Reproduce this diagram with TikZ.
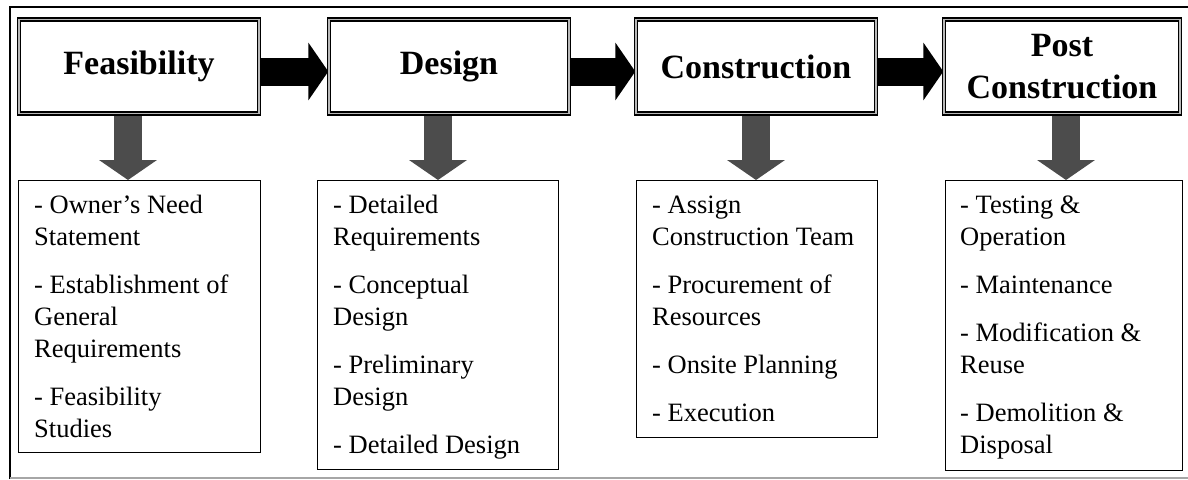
\documentclass[tikz,border=0pt]{standalone}
\usepackage{fontspec}
\setmainfont{Liberation Serif}
\usetikzlibrary{arrows.meta,backgrounds}
\begin{document}
\begin{tikzpicture}[x=1pt,y=1pt,
  stage/.style={draw=black, line width=1.4pt, double=gray!55, double distance=1.4pt,
    fill=white, minimum width=240pt, minimum height=94pt, inner sep=0pt,
    font=\fontsize{34}{42}\selectfont\bfseries, align=center},
  listbox/.style={draw=black, line width=1.3pt, fill=white, inner sep=0pt, anchor=north west},
  listtext/.style={anchor=north west, inner sep=0pt, align=left,
    font=\fontsize{26.5}{32}\selectfont},
  hflow/.style={line width=28pt, -{Triangle[length=20pt 0, width=57pt 0]}, black},
  downflow/.style={line width=28pt, -{Triangle[length=20pt 0, width=57pt 0]}, black!70},
  frameline/.style={line width=2.8pt, black}
]
\path[use as bounding box] (0,0) rectangle (1188,-479);

% outer frame
\draw[frameline] (10,-479) -- (10,-7) -- (1188,-7);
\draw[gray!70, line width=1.5pt] (10,-478) -- (1188,-478);

% stage boxes
\node[stage] (F) at (139,-66.5) {Feasibility};
\node[stage] (D) at (449,-66.5) {Design};
\node[stage] (C) at (756,-66.5) {Construction};
\node[stage, minimum width=236pt] (P) at (1062,-66.5) {Post\\Construction};

% list boxes
\node[listbox, minimum width=242pt, minimum height=272pt] (L1) at (18,-180) {};
\node[listbox, minimum width=241pt, minimum height=289pt] (L2) at (317,-180) {};
\node[listbox, minimum width=241pt, minimum height=257pt] (L3) at (636,-180) {};
\node[listbox, minimum width=237pt, minimum height=290pt] (L4) at (945,-180) {};

\node[listtext] (T1) at (34,-193) {\rule{0pt}{20pt}- Owner's Need\\Statement\\[16pt]- Establishment of\\General\\Requirements\\[16pt]- Feasibility\\Studies};
\node[listtext] (T2) at (333,-193) {\rule{0pt}{20pt}- Detailed\\Requirements\\[16pt]- Conceptual\\Design\\[16pt]- Preliminary\\Design\\[16pt]- Detailed Design};
\node[listtext] (T3) at (652,-193) {\rule{0pt}{20pt}- Assign\\Construction Team\\[16pt]- Procurement of\\Resources\\[16pt]- Onsite Planning\\[16pt]- Execution};
\node[listtext] (T4) at (960,-193) {\rule{0pt}{20pt}- Testing \&\\Operation\\[16pt]- Maintenance\\[16pt]- Modification \&\\Reuse\\[16pt]- Demolition \&\\Disposal};

% connectors
\begin{scope}[on background layer]
\draw[hflow] ([yshift=-5pt]F.east) -- ([yshift=-5pt]D.west);
\draw[hflow] ([yshift=-5pt]D.east) -- ([yshift=-5pt]C.west);
\draw[hflow] ([yshift=-5pt]C.east) -- ([yshift=-5pt]P.west);
\draw[downflow] ([xshift=-11pt]F.south) -- ([xshift=-11pt]F.south |- L1.north);
\draw[downflow] ([xshift=-11pt]D.south) -- ([xshift=-11pt]D.south |- L2.north);
\draw[downflow] (C.south) -- (C.south |- L3.north);
\draw[downflow] ([xshift=4pt]P.south) -- ([xshift=4pt]P.south |- L4.north);
\end{scope}
\end{tikzpicture}
\end{document}
